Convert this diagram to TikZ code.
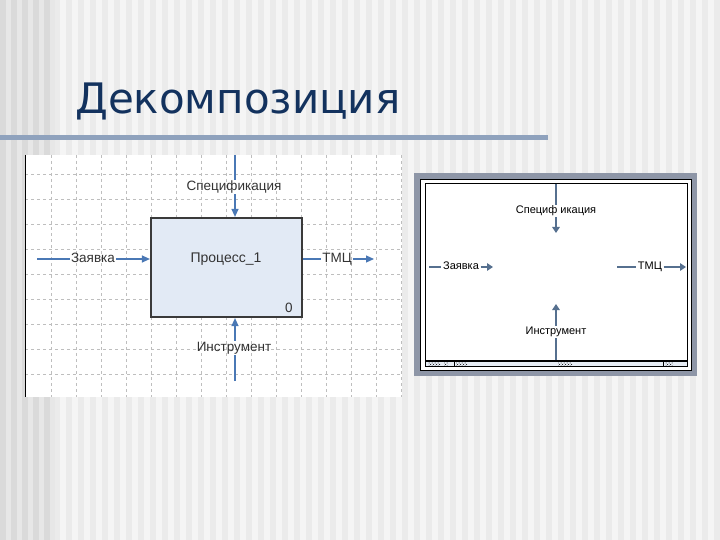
\documentclass[tikz,border=0pt]{standalone}
\usepackage{fontspec}
\setmainfont{Liberation Sans}
\newfontfamily\titlefont{DejaVu Sans}
\usepackage{tikz}
\usetikzlibrary{arrows.meta}
\usetikzlibrary{positioning}
\usetikzlibrary{patterns}
\definecolor{titleblue}{HTML}{13325E}
\definecolor{rulegray}{HTML}{8FA2BD}
\definecolor{flowblue}{HTML}{4A78B5}
\definecolor{darkflow}{HTML}{56708F}
\definecolor{boxfill}{HTML}{E2EAF5}
\definecolor{boxedge}{HTML}{3A3A3A}
\definecolor{gridgray}{HTML}{BEBEBE}
\definecolor{framegray}{HTML}{8E96A7}
\definecolor{barfill}{HTML}{E6ECF4}
\definecolor{labelgray}{HTML}{333333}
\definecolor{stripelight}{HTML}{F5F5F5}
\definecolor{stripedark}{HTML}{EBEBEB}
\definecolor{edgelight}{HTML}{E7E7E7}
\definecolor{edgedark}{HTML}{DADADA}
\tikzset{
    flow/.style={draw=flowblue, line width=1.2pt, -{Triangle[length=8pt,width=7pt]}},
    flownoarrow/.style={draw=flowblue, line width=1.2pt},
    thickflow/.style={draw=darkflow, line width=2.8pt, -{Triangle[length=6pt,width=7.5pt]}},
    thickflownoarrow/.style={draw=darkflow, line width=2.8pt},
    flowtext/.style={font=\fontsize{13.5}{16}\selectfont, text=labelgray, inner sep=1pt,
        text height=9.5pt, text depth=2.5pt},
    smalltext/.style={font=\fontsize{11}{13}\selectfont, text=black, inner sep=1.5pt,
        text height=7.5pt, text depth=2pt},
    gridline/.style={draw=gridgray, dashed, line width=0.6pt},
    procbox/.style={draw=boxedge, fill=boxfill, line width=2.2pt, minimum width=151pt, minimum height=99pt, inner sep=0pt},
    hatch/.style={pattern=crosshatch dots, pattern color=black},
}

\begin{document}
\begin{tikzpicture}[x=1pt, y=-1pt]
\useasboundingbox (0,0) rectangle (720,540);
% background stripes
\fill[stripelight] (0,0) rectangle (720,540);
\foreach \i in {0,...,59}
	\fill[stripedark] (\i*12+6,0) rectangle ++(6,540);
\foreach \i in {0,...,4}{
	\fill[edgedark] (\i*11,0) rectangle ++(5.5,540);
	\fill[edgelight] (\i*11+5.5,0) rectangle ++(5.5,540);
}
% title
\node[anchor=base west, inner sep=0pt, text=titleblue, font=\titlefont\fontsize{42}{50}\selectfont] (title) at (75,114) {Декомпозиция};
\fill[rulegray] (0,135.5) rectangle (548,140.5);

% left panel
\begin{scope}
	\fill[white] (25,155) rectangle (402,397);
	\foreach \x in {51,76,...,401}
		\draw[gridline] (\x,155) -- (\x,397);
	\foreach \y in {174,199,...,374}
		\draw[gridline] (25,\y) -- (402,\y);
	\draw[black, line width=1pt] (25.5,155) -- (25.5,397);
	\node[procbox] (proc) at (226.5,267.5) {};
	\node[flowtext, font=\fontsize{14}{16}\selectfont] (proctitle) at (226,259) {Процесс\_1};
	\node[flowtext] (procnum) at (289,309) {0};
	\coordinate (spectop) at (235,155);
	\node[flowtext] (speclbl) at (234,187) {Спецификация};
	\draw[flownoarrow] (spectop) -- (speclbl.north -| spectop);
	\draw[flow] (speclbl.south -| spectop) -- (proc.north -| spectop);
	\coordinate (zin) at (37,259);
	\node[flowtext] (zlbl) at (93,259) {Заявка};
	\draw[flownoarrow] (zin) -- (zlbl);
	\draw[flow] (zlbl) -- (proc.west |- zlbl);
	\node[flowtext] (tlbl) at (337,259) {ТМЦ};
	\coordinate (tout) at (374,259);
	\draw[flownoarrow] (proc.east |- tlbl) -- (tlbl);
	\draw[flow] (tlbl) -- (tout);
	\coordinate (ibot) at (235,381);
	\node[flowtext] (ilbl) at (234,348) {Инструмент};
	\draw[flownoarrow] (ibot) -- (ilbl.south -| ibot);
	\draw[flow] (ilbl.north -| ibot) -- (proc.south -| ibot);
\end{scope}

% right panel
\begin{scope}
	\fill[framegray] (414,173) rectangle (697,376);
	\fill[white] (420,179) rectangle (692,371);
	\draw[black, line width=1pt] (420.5,179.5) rectangle (691.5,370.5);
	\draw[black, line width=1pt] (425.5,183.5) rectangle (687.5,366.5);
	\fill[barfill] (426,361) rectangle (687,366);
	\draw[black, line width=1.6pt] (426,361) -- (687,361);
	\draw[black, line width=0.6pt] (454,361) -- (454,366);
	\draw[black, line width=0.6pt] (663,361) -- (663,366);
	\fill[hatch] (428,362.5) rectangle (440,365);
	\fill[hatch] (444,362.5) rectangle (448,365);
	\fill[hatch] (456,362.5) rectangle (467,365);
	\fill[hatch] (558,362.5) rectangle (572,365);
	\fill[hatch] (665,362.5) rectangle (673,365);
	\coordinate (rspectop) at (556,184);
	\node[smalltext] (rspeclbl) at (556,211) {Специф икация};
	\coordinate (rspecend) at (556,233);
	\draw[thickflownoarrow] (rspectop) -- (rspeclbl);
	\draw[thickflow] (rspeclbl) -- (rspecend);
	\coordinate (rzin) at (429,267);
	\node[smalltext] (rzlbl) at (461,267) {Заявка};
	\coordinate (rzend) at (493,267);
	\draw[thickflownoarrow] (rzin) -- (rzlbl);
	\draw[thickflow] (rzlbl) -- (rzend);
	\coordinate (rtstart) at (617,267);
	\node[smalltext] (rtlbl) at (650,267) {ТМЦ};
	\coordinate (rtend) at (686,267);
	\draw[thickflownoarrow] (rtstart) -- (rtlbl);
	\draw[thickflow] (rtlbl) -- (rtend);
	\coordinate (rinbot) at (556,360);
	\node[smalltext] (rilbl) at (556,332) {Инструмент};
	\coordinate (ritip) at (556,304);
	\draw[thickflownoarrow] (rinbot) -- (rilbl);
	\draw[thickflow] (rilbl) -- (ritip);
\end{scope}
\end{tikzpicture}
\end{document}
